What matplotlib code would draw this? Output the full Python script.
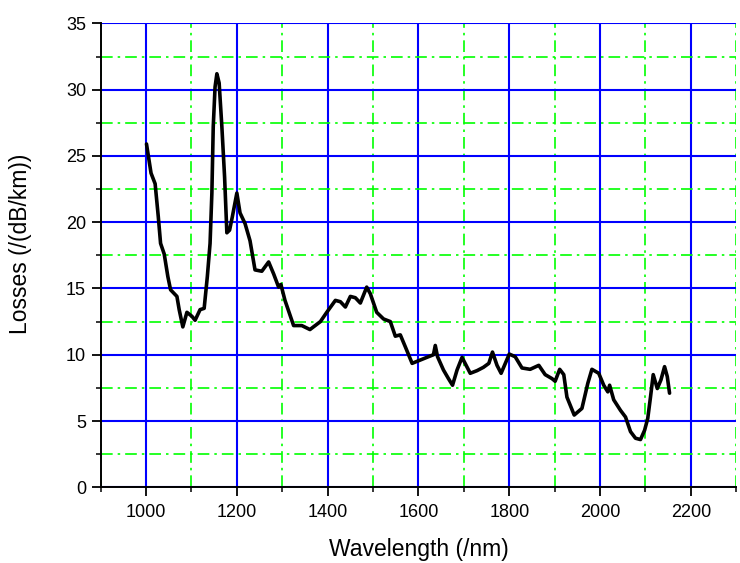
import numpy as np
import matplotlib.pyplot as plt
from matplotlib.ticker import MultipleLocator

# ---- Data ----
wavelength = [1001, 1011, 1020, 1027, 1032, 1040, 1048, 1054, 1068, 1073,
              1081, 1090, 1101, 1108, 1119, 1128, 1135, 1141, 1145, 1148,
              1152, 1156, 1161, 1167, 1173, 1178, 1184, 1190, 1200, 1207,
              1218, 1229, 1240, 1255, 1270, 1281, 1292, 1297, 1306, 1325,
              1343, 1361, 1384, 1398, 1417, 1428, 1439, 1450, 1461, 1472,
              1486, 1494, 1508, 1523, 1538, 1549, 1560, 1571, 1586, 1604,
              1622, 1633, 1637, 1642, 1655, 1666, 1675, 1685, 1696, 1705,
              1714, 1729, 1743, 1755, 1763, 1773, 1782, 1800, 1813, 1828,
              1846, 1865, 1879, 1894, 1901, 1911, 1920, 1927, 1943, 1960,
              1973, 1982, 1997, 2008, 2017, 2021, 2030, 2045, 2056, 2067,
              2078, 2089, 2098, 2105, 2111, 2117, 2126, 2134, 2142, 2148,
              2153]
losses = [25.9, 23.7, 22.9, 20.4, 18.4, 17.6, 15.9, 14.9, 14.4, 13.4,
          12.1, 13.2, 12.9, 12.6, 13.4, 13.5, 15.9, 18.4, 22.2, 27.2,
          30.2, 31.2, 30.5, 27.2, 23.4, 19.2, 19.4, 20.4, 22.2, 20.7,
          19.9, 18.6, 16.4, 16.3, 17.0, 16.1, 15.1, 15.3, 14.1, 12.2,
          12.2, 11.9, 12.5, 13.2, 14.1, 14.0, 13.6, 14.4, 14.3, 13.9,
          15.1, 14.6, 13.2, 12.7, 12.5, 11.4, 11.5, 10.6, 9.35, 9.6,
          9.85, 10.0, 10.7, 9.85, 8.85, 8.2, 7.7, 8.85, 9.8, 9.2,
          8.6, 8.8, 9.05, 9.35, 10.2, 9.2, 8.6, 10.05, 9.85, 9.0,
          8.9, 9.2, 8.5, 8.2, 8.0, 8.9, 8.5, 6.8, 5.45, 5.95,
          7.85, 8.9, 8.6, 7.7, 7.2, 7.7, 6.6, 5.8, 5.3, 4.2,
          3.7, 3.6, 4.3, 5.2, 6.8, 8.5, 7.45, 8.1, 9.1, 8.35,
          7.1]

# ---- Plot ----
plt.rcParams['font.family'] = ['Liberation Sans', 'DejaVu Sans']
fig = plt.figure(figsize=(7.4, 5.63), dpi=100)
ax = fig.add_axes([0.136, 0.1345, 0.859, 0.824])

ax.plot(wavelength, losses, color="black", linewidth=2.6, zorder=3,
        solid_joinstyle="round", solid_capstyle="round")

ax.set_xlim(900, 2300)
ax.set_ylim(0, 35)
ax.xaxis.set_minor_locator(MultipleLocator(100))
ax.yaxis.set_major_locator(MultipleLocator(5))
ax.yaxis.set_minor_locator(MultipleLocator(2.5))
ax.set_xticks(np.arange(1000, 2201, 200))

ax.set_axisbelow(True)
ax.grid(which="major", color="#0000ff", linestyle="-", linewidth=1.5)
ax.grid(which="minor", color="#00ff00", linestyle=(0, (7, 3, 1.5, 3)), linewidth=1.2)
ax.yaxis.get_major_ticks()[-1].gridline.set_visible(False)

for side in ["top", "right"]:
    ax.spines[side].set_visible(False)
for side in ["left", "bottom"]:
    ax.spines[side].set_linewidth(1.4)
    ax.spines[side].set_zorder(4)

ax.tick_params(which="major", direction="out", length=6.5, width=1.3,
               labelsize=13, pad=4)
ax.tick_params(axis="x", which="major", pad=5.5)
ax.tick_params(which="minor", direction="out", length=3.6, width=1.1)

ax.set_xlabel("Wavelength (/nm)", fontsize=16.5)
ax.set_ylabel("Losses (/(dB/km))", fontsize=16.5)
ax.xaxis.set_label_coords(0.5, -0.11)
ax.yaxis.set_label_coords(-0.108, 0.525)

plt.savefig("out.png", dpi=100)
